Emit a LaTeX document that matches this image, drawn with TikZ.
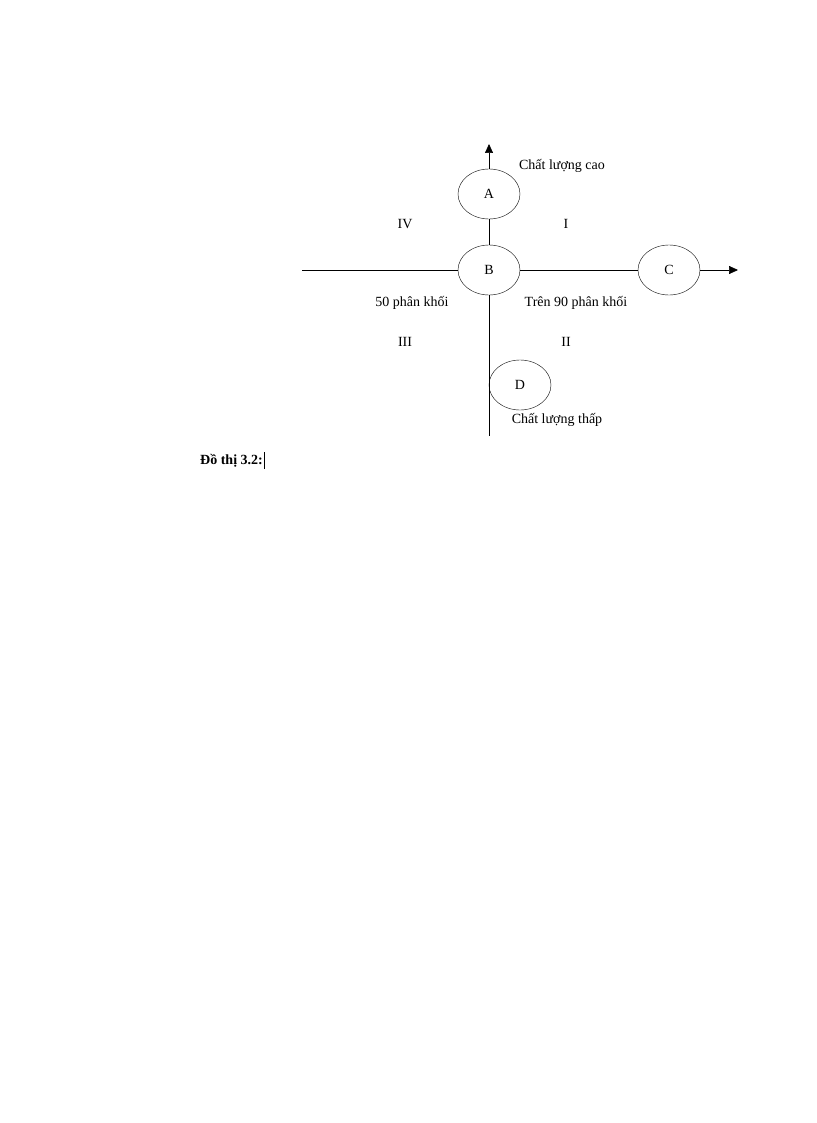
\documentclass[tikz,border=0pt]{standalone}
\usepackage{fontspec}
\setmainfont{Liberation Serif}
\usetikzlibrary{arrows.meta,shapes.geometric}
\begin{document}
\begin{tikzpicture}[x=1pt,y=-1pt,
  ell/.style={draw,ellipse,minimum width=62pt,minimum height=50pt,inner sep=0pt},
  lbl/.style={font=\fontsize{14}{16}\selectfont},
  ax/.style={line width=0.7pt},
  tip/.style={-{Triangle[length=9pt,width=8pt]}}]
\useasboundingbox (0,0) rectangle (816,1123);
\node[ell,lbl] (A) at (489,194) {A};
\node[ell,lbl] (B) at (489,270) {B};
\node[ell,lbl] (C) at (669,270) {C};
\node[ell,lbl] (D) at (520,385) {D};
\coordinate (top) at (489,144);
\coordinate (bot) at (489,436);
\coordinate (left) at (302,270);
\coordinate (right) at (738,270);
\draw[ax,tip] (A.north) -- (top);
\draw[ax] (A.south) -- (B.north);
\draw[ax] (B.south) -- (bot);
\draw[ax] (left) -- (B.west);
\draw[ax] (B.east) -- (C.west);
\draw[ax,tip] (C.east) -- (right);
\node[lbl] (t1) at (562,166) {Chất lượng cao};
\node[lbl] (q4) at (405,224) {IV};
\node[lbl] (q1) at (566,224) {I};
\node[lbl] (t2) at (412,303) {50 phân khối};
\node[lbl] (t3) at (576,303) {Trên 90 phân khối};
\node[lbl] (q3) at (405,342) {III};
\node[lbl] (q2) at (566,342) {II};
\node[lbl] (t4) at (557,420) {Chất lượng thấp};
\node[lbl,font=\fontsize{14}{16}\selectfont\bfseries,anchor=west,inner sep=0pt] (cap) at (200,461) {Đồ thị 3.2:};
\draw[line width=1.2pt] ([xshift=1.5pt,yshift=-8pt]cap.east) -- ([xshift=1.5pt,yshift=9pt]cap.east);
\end{tikzpicture}
\end{document}
